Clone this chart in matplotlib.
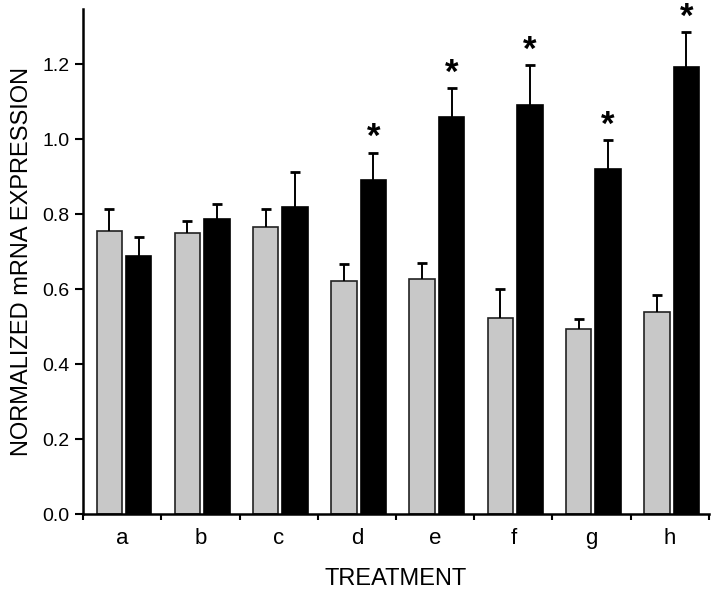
import numpy as np
import matplotlib
matplotlib.use("Agg")
import matplotlib.pyplot as plt

plt.rcParams['font.family'] = ['Liberation Sans', 'DejaVu Sans']

# data
treatments = ['a', 'b', 'c', 'd', 'e', 'f', 'g', 'h']
control = [0.755, 0.749, 0.766, 0.622, 0.628, 0.522, 0.493, 0.539]
control_err = [0.059, 0.032, 0.048, 0.045, 0.042, 0.077, 0.026, 0.046]
treated = [0.687, 0.786, 0.820, 0.892, 1.058, 1.091, 0.919, 1.193]
treated_err = [0.052, 0.040, 0.092, 0.072, 0.078, 0.107, 0.078, 0.092]
significant = [False, False, False, True, True, True, True, True]

fig = plt.figure(figsize=(7.2, 5.89), dpi=100)
ax = fig.add_axes([0.1153, 0.1273, 0.8694, 0.8574])

x = np.arange(len(treatments))
width = 0.325
x_ctrl = x - 0.165
x_trt = x + 0.21

ax.bar(x_ctrl, control, width, color='#c8c8c8', edgecolor='#222222', linewidth=1.2, zorder=2)
ax.bar(x_trt, treated, width, color='black', edgecolor='black', linewidth=1.2, zorder=2)

for xs, vals, errs in [(x_ctrl, control, control_err), (x_trt, treated, treated_err)]:
    eb = ax.errorbar(xs, vals, yerr=[np.zeros(len(vals)), errs], fmt='none',
                     ecolor='black', elinewidth=1.4, capsize=3.5, capthick=2, zorder=3)
    eb[1][0].set_visible(False)  # hide the lower caps

for xi, v, e, sig in zip(x_trt, treated, treated_err, significant):
    if sig:
        ax.text(xi, v + e + 0.014, '*', ha='center', va='baseline', fontsize=25,
                fontweight='bold')

ax.set_xlim(-0.5, len(treatments) - 0.5)
ax.set_ylim(0, 1.347)

ax.set_xticks(np.arange(len(treatments) + 1) - 0.5)
ax.set_xticklabels([])
ax.set_xticks(x, minor=True)
ax.set_xticklabels(treatments, minor=True, fontsize=16)
ax.tick_params(axis='x', which='major', direction='out', length=4, width=1.5)
ax.tick_params(axis='x', which='minor', length=0, pad=10)

ax.set_yticks(np.arange(0, 1.21, 0.2))
ax.set_yticklabels(['%.1f' % v for v in np.arange(0, 1.21, 0.2)], fontsize=14)
ax.tick_params(axis='y', direction='out', length=6, width=1.5)

for side in ['top', 'right']:
    ax.spines[side].set_visible(False)
for side in ['left', 'bottom']:
    ax.spines[side].set_linewidth(1.8)

ax.set_xlabel('TREATMENT', fontsize=17, labelpad=14)
ax.set_ylabel('NORMALIZED mRNA EXPRESSION', fontsize=17, labelpad=7)

fig.savefig('out.png', dpi=100)
